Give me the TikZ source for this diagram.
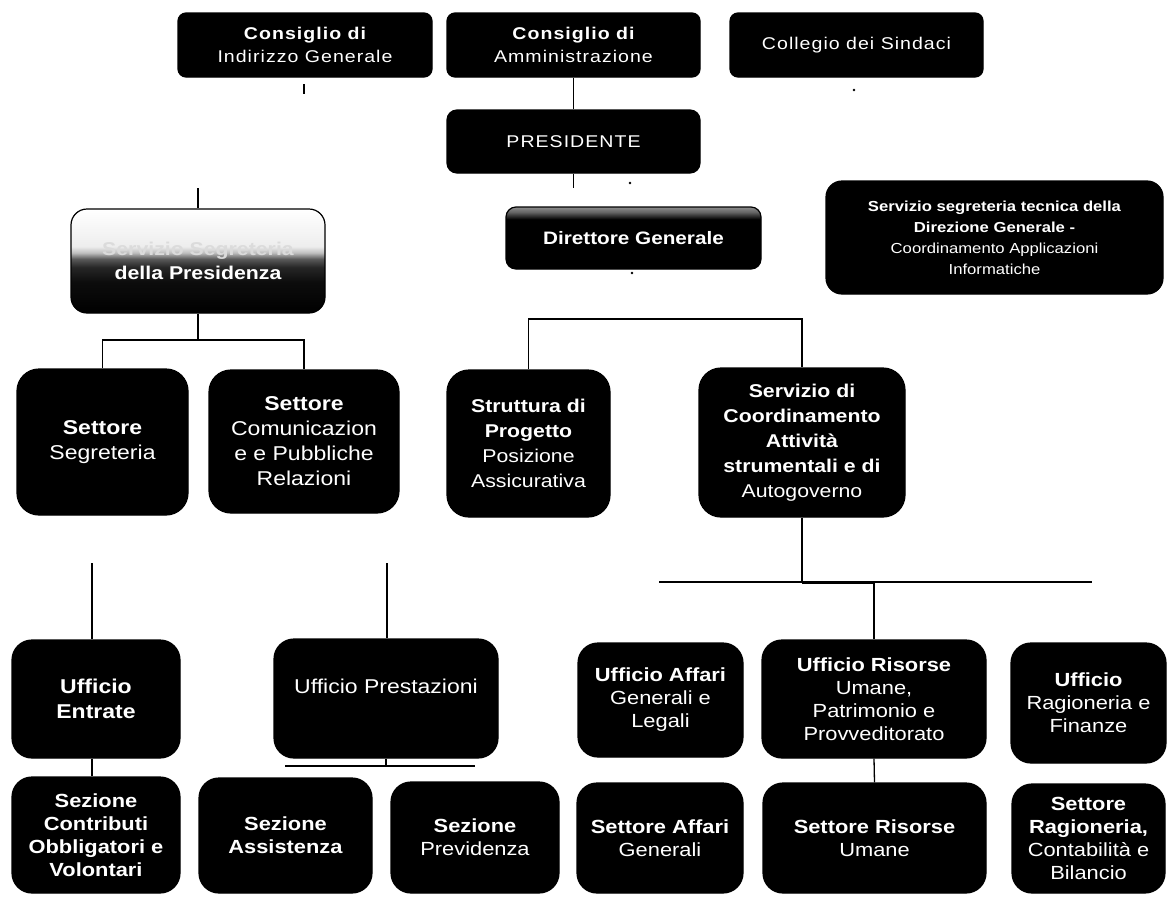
\documentclass[tikz,border=0pt]{standalone}
\usepackage{fontspec}
\setmainfont{Liberation Sans}[FakeStretch=1.15]
\newfontfamily\widefont{Liberation Sans}[FakeStretch=1.15,LetterSpace=6]
\pgfdeclareverticalshading{presshade}{100bp}{color(0bp)=(black); color(25bp)=(black); color(40bp)=(black!95); color(47bp)=(black!85); color(51bp)=(black!65); color(54bp)=(white!75!black); color(57bp)=(white!93!black); color(75bp)=(white); color(100bp)=(white)}
\pgfdeclareverticalshading{dgshade}{100bp}{color(0bp)=(black); color(25bp)=(black); color(65bp)=(black); color(71bp)=(black!60); color(75bp)=(black!45); color(100bp)=(black!45)}
\tikzset{
  box/.style={draw=black, line width=1.2pt, text=white, align=center, inner sep=0pt, rounded corners=#1},
  box/.default=12pt,
  blk/.style={box=#1, fill=black},
  blk/.default=12pt,
  fa/.style={font=\widefont\fontsize{17}{23}\selectfont},
  fb/.style={font=\fontsize{20}{25}\selectfont},
  fc/.style={font=\fontsize{18.5}{25}\selectfont},
  fd/.style={font=\fontsize{19}{23}\selectfont},
  fe/.style={font=\fontsize{14.5}{21}\selectfont},
  conn/.style={draw=black, line width=1.3pt},
}
\begin{document}
\begin{tikzpicture}[x=1pt, y=-1pt]
\useasboundingbox (0,0) rectangle (1169,897);
\fill[white] (0,0) rectangle (1169,897);

% row 1
\node[blk=8pt, fa, minimum width=254pt, minimum height=64pt] (cig) at (305,45) {{\bfseries Consiglio di}\\Indirizzo Generale};
\node[blk=8pt, fa, minimum width=253pt, minimum height=64pt] (cda) at (573.5,45) {{\bfseries Consiglio di}\\Amministrazione};
\node[blk=8pt, fa, minimum width=253pt, minimum height=64pt] (cds) at (856.5,45) {Collegio dei Sindaci};

% row 2
\node[blk=10pt, fa, minimum width=253pt, minimum height=63pt] (pres) at (573.5,141.5) {PRESIDENTE};
\node[box=10pt, shade, shading=dgshade, font=\bfseries\fontsize{18}{23}\selectfont, minimum width=255pt, minimum height=62pt] (dg) at (633.5,238) {Direttore Generale};
\node[blk=16pt, fe, minimum width=337pt, minimum height=113pt] (sst) at (994.5,237.5) {{\bfseries Servizio segreteria tecnica della}\\{\bfseries Direzione Generale -}\\Coordinamento Applicazioni\\Informatiche};
\node[box=16pt, shade, shading=presshade, font=\bfseries\fontsize{18.5}{24}\selectfont, minimum width=254pt, minimum height=104pt] (segp) at (198,261) {{\color{white!86!black}Servizio Segreteria}\\della Presidenza};

% row 3
\node[blk=22pt, fb, minimum width=171pt, minimum height=146pt] (ss) at (102.5,442) {{\bfseries Settore}\\Segreteria};
\node[blk=22pt, fb, minimum width=190pt, minimum height=143pt] (scpr) at (304,441.5) {{\bfseries Settore}\\Comunicazion\\e e Pubbliche\\Relazioni};
\node[blk=22pt, fc, minimum width=163pt, minimum height=147pt] (spa) at (528.5,443.5) {{\bfseries Struttura di}\\{\bfseries Progetto}\\Posizione\\Assicurativa};
\node[blk=22pt, fc, minimum width=206pt, minimum height=149pt] (scas) at (802,442.5) {{\bfseries Servizio di}\\{\bfseries Coordinamento}\\{\bfseries Attività}\\{\bfseries strumentali e di}\\Autogoverno};

% row 4
\node[blk=20pt, fb, minimum width=168pt, minimum height=118pt] (ue) at (96,699) {{\bfseries Ufficio}\\{\bfseries Entrate}};
\node[blk=20pt, fb, minimum width=224pt, minimum height=119pt, text height=14pt, text depth=24pt] (up) at (386,698.5) {Ufficio Prestazioni};
\node[blk=20pt, fd, minimum width=165pt, minimum height=114pt] (uag) at (660.5,700) {{\bfseries Ufficio Affari}\\Generali e\\Legali};
\node[blk=20pt, fd, minimum width=224pt, minimum height=118pt] (uru) at (874,699) {{\bfseries Ufficio Risorse}\\Umane,\\Patrimonio e\\Provveditorato};
\node[blk=20pt, fd, minimum width=155pt, minimum height=120pt] (urf) at (1088.5,703) {{\bfseries Ufficio}\\Ragioneria e\\Finanze};

% row 5
\node[blk=20pt, fd, minimum width=168pt, minimum height=116pt] (scov) at (96,835) {\bfseries Sezione\\\bfseries Contributi\\\bfseries Obbligatori e\\\bfseries Volontari};
\node[blk=20pt, fd, minimum width=173pt, minimum height=115pt] (sa) at (285.5,835.5) {\bfseries Sezione\\\bfseries Assistenza};
\node[blk=20pt, fd, minimum width=168pt, minimum height=111pt] (sp) at (475,837.5) {{\bfseries Sezione}\\Previdenza};
\node[blk=20pt, fd, minimum width=166pt, minimum height=110pt] (sag) at (660,838) {{\bfseries Settore Affari}\\Generali};
\node[blk=20pt, fd, minimum width=223pt, minimum height=110pt] (sru) at (874.5,838) {{\bfseries Settore Risorse}\\Umane};
\node[blk=20pt, fd, minimum width=153pt, minimum height=109pt] (srcb) at (1088.5,838.5) {{\bfseries Settore}\\{\bfseries Ragioneria,}\\Contabilità e\\Bilancio};

% free coordinates
\coordinate (tickA) at (304,84);
\coordinate (tickB) at (304,94);
\coordinate (presStub) at (573.5,188);
\coordinate (segpTop) at (198,188);
\coordinate (busA) at (198,340);
\coordinate (busB) at (665,319);
\coordinate (busCl) at (659,582);
\coordinate (busCr) at (1092,582);
\coordinate (eTop) at (92,563);
\coordinate (pTop) at (387,563);
\coordinate (busDl) at (285,766);
\coordinate (busDr) at (475,766);

% connectors
\draw[conn] (tickA) -- (tickB);
\draw[conn] (cda.south) -- (pres.north);
\draw[conn] (pres.south) -- (presStub);
\draw[conn] (segpTop) -- (segp.north);
\draw[conn] (segp.south) -- (busA);
\draw[conn] (ss.north) |- (busA) -| (scpr.north);
\draw[conn] (spa.north) |- (busB) -| (scas.north);
\draw[conn] (busCl) -- (busCr);
\draw[conn] (scas.south) -- (scas.south |- busCl);
\draw[conn, line width=3pt] (scas.south |- busCl) -- (uru.north |- busCl);
\draw[conn] (uru.north |- busCl) -- (uru.north);
\draw[conn] (eTop) -- (eTop |- ue.north);
\draw[conn] (ue.south -| eTop) -- (scov.north -| eTop);
\draw[conn] (pTop) -- (pTop |- up.north);
\draw[conn] (busDl) -- (busDr);
\draw[conn] (up.south) -- (up.south |- busDl);
\draw[conn] (uru.south) -- (sru.north);

% specks
\fill[black] (630,183) circle (1.3pt);
\fill[black] (854,90) circle (1.3pt);
\fill[black] (632,273) circle (1.3pt);
\end{tikzpicture}
\end{document}
